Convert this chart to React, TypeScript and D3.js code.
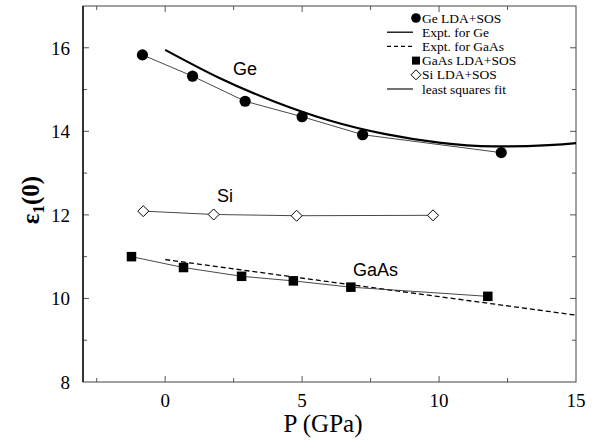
import React, { useEffect, useRef } from 'react';
import * as d3 from 'd3';

// Ge LDA+SOS (P in GPa, eps1(0))
const gePress = [-0.83, 1.0, 2.92, 5.0, 7.21, 12.27];
const geEps = [15.83, 15.32, 14.72, 14.35, 13.92, 13.49];

// Si LDA+SOS
const siPress = [-0.8, 1.77, 4.8, 9.78];
const siEps = [12.09, 12.01, 11.98, 11.99];

// GaAs LDA+SOS
const gaasPress = [-1.23, 0.67, 2.79, 4.68, 6.78, 11.78];
const gaasEps = [11.0, 10.74, 10.53, 10.42, 10.27, 10.05];

const exptGePress = [0, 2, 4, 6, 8, 10, 12, 14, 15];
const exptGeEps = [15.95, 15.27, 14.71, 14.26, 13.94, 13.73, 13.64, 13.67, 13.72];
const exptGaasPress = [0, 15];
const exptGaasEps = [10.93, 9.6];

const xTicks = [0, 5, 10, 15];
const yTicks = [8, 10, 12, 14, 16];
const legendLabels = ['Ge LDA+SOS', 'Expt. for Ge', 'Expt. for GaAs', 'GaAs LDA+SOS', 'Si LDA+SOS', 'least squares fit'];

const zip = (xs: number[], ys: number[]) => xs.map((x, i) => [x, ys[i]] as [number, number]);

function Chart() {
  const ref = useRef<SVGSVGElement>(null);

  useEffect(() => {
    const svg = d3.select(ref.current);
    svg.selectAll('*').remove();

    // plot frame
    const m = { left: 83, right: 576, top: 6, bottom: 382 };
    const x = d3.scaleLinear().domain([-3, 15]).range([m.left, m.right]);
    const y = d3.scaleLinear().domain([8, 17]).range([m.bottom, m.top]);
    const serif = '"Liberation Serif", "Times New Roman", serif';
    const sans = '"Liberation Sans", Arial, sans-serif';

    const g = svg.append('g');

    // ticks on all four sides, pointing inward
    const xMinor = d3.range(-2.5, 15, 2.5);
    const yMinor = d3.range(9, 17, 1);
    const tickCol = '#555';
    xMinor.forEach(v => {
      const len = xTicks.includes(v) ? 6 : 4;
      g.append('line').attr('x1', x(v)).attr('x2', x(v)).attr('y1', m.bottom).attr('y2', m.bottom - len).attr('stroke', tickCol);
      g.append('line').attr('x1', x(v)).attr('x2', x(v)).attr('y1', m.top).attr('y2', m.top + len).attr('stroke', tickCol);
    });
    yMinor.forEach(v => {
      const len = yTicks.includes(v) ? 6 : 4;
      g.append('line').attr('y1', y(v)).attr('y2', y(v)).attr('x1', m.left).attr('x2', m.left + len).attr('stroke', tickCol);
      g.append('line').attr('y1', y(v)).attr('y2', y(v)).attr('x1', m.right).attr('x2', m.right - len).attr('stroke', tickCol);
    });

    g.append('rect')
      .attr('x', m.left).attr('y', m.top)
      .attr('width', m.right - m.left).attr('height', m.bottom - m.top)
      .attr('fill', 'none').attr('stroke', '#444').attr('stroke-width', 1);
    g.append('line').attr('x1', m.left).attr('x2', m.left).attr('y1', m.top).attr('y2', m.bottom)
      .attr('stroke', '#111').attr('stroke-width', 1.5);

    // tick labels
    xTicks.forEach(v => {
      g.append('text').attr('x', x(v)).attr('y', 407).attr('text-anchor', 'middle')
        .attr('font-family', serif).attr('font-size', 19).text(v);
    });
    yTicks.forEach(v => {
      g.append('text').attr('x', 70).attr('y', y(v) + 7).attr('text-anchor', 'end')
        .attr('font-family', serif).attr('font-size', 19).text(v);
    });

    // axis titles
    g.append('text').attr('x', 323).attr('y', 432).attr('text-anchor', 'middle')
      .attr('font-family', serif).attr('font-size', 25).text('P (GPa)');
    const yl = g.append('text').attr('transform', 'translate(39,200) rotate(-90)')
      .attr('text-anchor', 'middle').attr('font-family', serif).attr('font-size', 25).attr('font-weight', 'bold');
    yl.append('tspan').text('ε');
    yl.append('tspan').attr('font-size', 17).attr('dy', 5).text('1');
    yl.append('tspan').attr('dy', -5).text('(0)');

    const line = d3.line<[number, number]>().x(d => x(d[0])).y(d => y(d[1]));
    const smooth = d3.line<[number, number]>().x(d => x(d[0])).y(d => y(d[1])).curve(d3.curveNatural);

    // experimental curves
    g.append('path').attr('d', smooth(zip(exptGePress, exptGeEps)))
      .attr('fill', 'none').attr('stroke', '#000').attr('stroke-width', 2.2);
    g.append('path').attr('d', line(zip(exptGaasPress, exptGaasEps)))
      .attr('fill', 'none').attr('stroke', '#000').attr('stroke-width', 1.3).attr('stroke-dasharray', '5,3');

    // least squares fits through calculated points
    [zip(gePress, geEps), zip(siPress, siEps), zip(gaasPress, gaasEps)].forEach(pts => {
      g.append('path').attr('d', line(pts)).attr('fill', 'none').attr('stroke', '#333').attr('stroke-width', 0.9);
    });

    // markers
    zip(gePress, geEps).forEach(d => {
      g.append('circle').attr('cx', x(d[0])).attr('cy', y(d[1])).attr('r', 5.6).attr('fill', '#000');
    });
    const sq = 9.5;
    zip(gaasPress, gaasEps).forEach(d => {
      g.append('rect').attr('x', x(d[0]) - sq / 2).attr('y', y(d[1]) - sq / 2)
        .attr('width', sq).attr('height', sq).attr('fill', '#000');
    });
    const diamond = (cx: number, cy: number, r: number) =>
      `M${cx - r},${cy}L${cx},${cy - r}L${cx + r},${cy}L${cx},${cy + r}Z`;
    zip(siPress, siEps).forEach(d => {
      g.append('path').attr('d', diamond(x(d[0]), y(d[1]), 5.5))
        .attr('fill', '#fff').attr('stroke', '#000').attr('stroke-width', 1);
    });

    // curve labels
    g.append('text').attr('x', 233).attr('y', 75).attr('font-family', sans).attr('font-size', 18).text('Ge');
    g.append('text').attr('x', 217).attr('y', 202).attr('font-family', sans).attr('font-size', 18).text('Si');
    g.append('text').attr('x', 353).attr('y', 276).attr('font-family', sans).attr('font-size', 18).text('GaAs');

    // legend
    const lx = 422, sx = 416;
    legendLabels.forEach((label, i) => {
      const ly = 18 + i * 14.2;
      g.append('text').attr('x', lx).attr('y', ly + 4.5).attr('font-family', serif).attr('font-size', 13.5).text(label);
      if (i === 0) g.append('circle').attr('cx', sx).attr('cy', ly).attr('r', 4.8).attr('fill', '#000');
      if (i === 1) g.append('line').attr('x1', 387).attr('x2', 413).attr('y1', ly).attr('y2', ly).attr('stroke', '#000').attr('stroke-width', 1.3);
      if (i === 2) g.append('line').attr('x1', 387).attr('x2', 413).attr('y1', ly).attr('y2', ly).attr('stroke', '#000').attr('stroke-width', 1.2).attr('stroke-dasharray', '4,3');
      if (i === 3) g.append('rect').attr('x', sx - 4).attr('y', ly - 4).attr('width', 8).attr('height', 8).attr('fill', '#000');
      if (i === 4) g.append('path').attr('d', diamond(sx, ly, 5)).attr('fill', '#fff').attr('stroke', '#000');
      if (i === 5) g.append('line').attr('x1', 387).attr('x2', 413).attr('y1', ly).attr('y2', ly).attr('stroke', '#000').attr('stroke-width', 1.1);
    });
  }, []);

  return <svg ref={ref} width={603} height={445} style={{ position: 'absolute', left: 0, top: 0, background: '#fff' }} />;
}

export default function App() {
  return <Chart />;
}
